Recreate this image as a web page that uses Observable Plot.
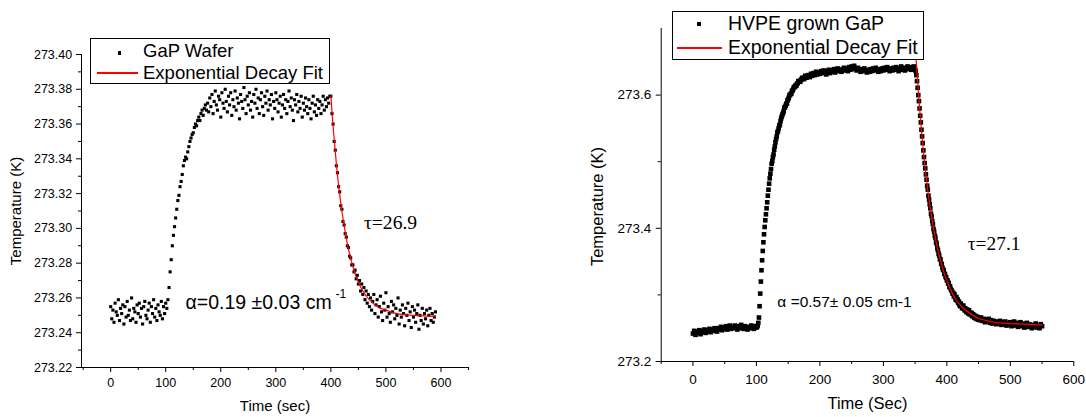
<!DOCTYPE html>
<html>
<head>
<meta charset="utf-8">
<script src="https://cdn.jsdelivr.net/npm/d3@7"></script>
<script src="https://cdn.jsdelivr.net/npm/@observablehq/plot@0.6"></script>
<style>
html,body{margin:0;padding:0;background:#fff;}
#wrap{position:relative;width:1086px;height:417px;overflow:hidden;font-family:"Liberation Sans",Arial,sans-serif;color:#000;}
.panel{position:absolute;top:0;width:543px;height:417px;}
.legend{position:absolute;border:1px solid #000;background:#fff;box-sizing:border-box;}
.lg-text{position:absolute;line-height:1;white-space:nowrap;color:#000;}
.lg-sym{position:absolute;background:#000;}
.lg-line{position:absolute;height:2px;background:#ff0000;z-index:5;}
</style>
</head>
<body>
<div id="wrap">
  <div class="panel" id="left" style="left:0"></div>
  <div class="panel" id="right" style="left:543px"></div>

  <div class="legend" style="left:90px;top:38px;width:240px;height:46px;"></div>
  <div class="lg-sym" style="left:117.5px;top:51px;width:3.5px;height:3.5px;"></div>
  <div class="lg-text" style="left:143px;top:41.6px;font-size:18.5px;">GaP Wafer</div>
  <div class="lg-line" style="left:97px;top:72px;width:41px;height:1.5px;"></div>
  <div class="lg-text" style="left:143px;top:63.6px;font-size:18.5px;">Exponential Decay Fit</div>

  <div class="legend" style="left:672px;top:11px;width:252px;height:49px;"></div>
  <div class="lg-sym" style="left:697.3px;top:22px;width:4px;height:4px;"></div>
  <div class="lg-text" style="left:728px;top:13.5px;font-size:19.5px;">HVPE grown GaP</div>
  <div class="lg-line" style="left:677px;top:46.5px;width:45px;"></div>
  <div class="lg-text" style="left:728px;top:37.8px;font-size:19.5px;">Exponential Decay Fit</div>
</div>
<script>
// ---------- Left panel: GaP Wafer ----------
const leftTime = [
0,2,4,6,8,10,12,14,16,18,
20,22,24,26,28,30,32,34,36,38,
40,42,44,46,48,50,52,54,56,58,
60,62,64,66,68,70,72,74,76,78,
80,82,84,86,88,90,92,94,96,98,
100,
102,104,106,108,110,112,114,116,118,120,
122,124,126,128,130,132,134,136,138,140,
142,144,146,148,150,152,154,156,158,160,
162,164,166,168,170,172,174,
176,178,180,182,184,186,188,190,192,194,
196,198,200,202,204,206,208,210,212,214,
216,218,220,222,224,226,228,230,232,234,
236,238,240,242,244,246,248,250,252,254,
256,258,260,262,264,266,268,270,272,274,
276,278,280,282,284,286,288,290,292,294,
296,298,300,302,304,306,308,310,312,314,
316,318,320,322,324,326,328,330,332,334,
336,338,340,342,344,346,348,350,352,354,
356,358,360,362,364,366,368,370,372,374,
376,378,380,382,384,386,388,390,392,394,
396,398,
400,402,404,406,408,410,412,414,416,418,
420,422,424,426,428,430,432,434,436,438,
440,442,444,446,448,450,452,454,456,458,
460,462,464,466,468,470,472,474,476,478,
480,482,484,486,488,490,492,494,496,498,
500,502,504,506,508,510,512,514,516,518,
520,522,524,526,528,530,532,534,536,538,
540,542,544,546,548,550,552,554,556,558,
560,562,564,566,568,570,572,574,576,578,
580,582,584,586,588,590];
const leftTemp = [
273.255,273.248,273.253,273.246,273.257,273.252,273.250,273.259,273.247,273.254,
273.251,273.256,273.245,273.255,273.249,273.258,273.250,273.253,273.247,273.260,
273.248,273.254,273.252,273.246,273.256,273.251,273.257,273.249,273.254,273.245,
273.255,273.258,273.250,273.248,273.253,273.257,273.246,273.255,273.251,273.259,
273.249,273.254,273.247,273.256,273.252,273.250,273.258,273.248,273.255,273.251,
273.257,
273.254,273.259,273.266,273.275,273.282,273.290,273.296,273.301,273.306,273.311,
273.316,273.319,273.324,273.327,273.331,273.336,273.339,273.341,273.340,273.344,
273.347,273.350,273.352,273.354,273.355,273.358,273.360,273.359,273.362,273.364,
273.362,273.366,273.368,273.365,273.369,273.371,273.368,
273.372,273.367,273.375,273.370,273.377,273.366,273.373,273.379,273.371,273.368,
273.376,273.374,273.364,273.378,273.372,273.369,273.380,273.373,273.367,273.376,
273.371,273.378,273.365,273.374,273.370,273.379,273.368,273.375,273.372,273.363,
273.377,273.373,273.369,273.381,273.374,273.366,273.376,273.371,273.378,273.368,
273.373,273.364,273.377,273.372,273.380,273.369,273.375,273.366,273.374,273.378,
273.370,273.365,273.376,273.372,273.379,273.368,273.374,273.371,273.377,273.363,
273.373,273.369,273.378,273.374,273.367,273.372,273.376,273.364,273.371,273.377,
273.369,273.374,273.366,273.373,273.379,273.370,273.375,273.368,273.362,273.374,
273.371,273.377,273.367,273.373,273.369,273.376,273.364,273.372,273.368,273.375,
273.370,273.366,273.374,273.369,273.363,273.372,273.376,273.367,273.371,273.365,
273.374,273.369,273.373,273.366,273.371,273.376,273.368,273.374,273.370,273.375,
273.372,273.376,
273.376,273.366,273.360,273.350,273.345,273.336,273.332,273.324,273.321,273.313,
273.311,273.304,273.302,273.297,273.295,273.290,273.289,273.284,273.283,273.279,
273.279,273.275,273.276,273.271,273.273,273.268,273.270,273.264,273.268,273.262,
273.266,273.259,273.264,273.257,273.262,273.255,273.260,273.253,273.258,273.262,
273.251,273.256,273.259,273.249,273.255,273.261,273.252,273.247,273.257,273.253,
273.263,273.249,273.255,273.251,273.246,273.258,273.252,273.256,273.248,273.254,
273.250,273.260,273.245,273.253,273.249,273.256,273.251,273.244,273.254,273.250,
273.257,273.247,273.252,273.243,273.255,273.249,273.253,273.246,273.251,273.256,
273.242,273.250,273.247,273.254,273.245,273.251,273.248,273.253,273.244,273.250,
273.254,273.247,273.251,273.246,273.249,273.252];
const leftFitTime = [400,402,405,410,415,420,425,430,435,440,445,450,460,470,480,490,500,520,550,590];
const leftFitTemp = [273.3765,273.367,273.355,273.337,273.322,273.310,273.300,273.291,273.284,273.278,273.273,273.269,273.263,273.259,273.256,273.254,273.253,273.251,273.250,273.2495];
const leftXMajor = [0,100,200,300,400,500,600];
const leftXMinor = [-50,50,150,250,350,450,550,650];
const leftYMajor = [273.22,273.24,273.26,273.28,273.30,273.32,273.34,273.36,273.38,273.40];
const leftYMinor = [273.23,273.25,273.27,273.29,273.31,273.33,273.35,273.37,273.39];
const leftTau = ["τ=26.9"], leftTauTime = [460], leftTauTemp = [273.3034];
const leftAlpha = ["α=0.19 ±0.03 cm"], leftAlphaTime = [136], leftAlphaTemp = [273.2573];
const leftAlphaSup = ["-1"];

// ---------- Right panel: HVPE grown GaP ----------
const rightTime = [
0,2,4,6,8,10,12,14,16,18,
20,22,24,26,28,30,32,34,36,38,
40,42,44,46,48,50,52,54,56,58,
60,62,64,66,68,70,72,74,76,78,
80,82,84,86,88,90,92,94,96,98,
100,
101,102,103,104,105,106,107,108,109,110,
111,112,113,114,115,116,117,118,119,120,
121,122,123,124,125,126,127,128,129,130,
131,132,133,134,135,136,137,138,139,140,
141,142,143,144,145,146,147,148,149,150,
151,152,153,154,155,156,157,158,159,160,
161,162,163,164,165,166,167,168,169,170,
171,172,173,174,175,176,177,178,179,180,
182,184,186,188,190,192,194,196,198,200,
202,204,206,208,210,212,214,216,218,220,
222,224,226,228,230,232,234,236,238,240,
242,244,246,248,250,252,254,256,258,260,
262,264,266,268,270,272,274,276,278,280,
282,284,286,288,290,292,294,296,298,300,
302,304,306,308,310,312,314,316,318,320,
322,324,326,328,330,332,334,336,338,340,
342,344,346,348,
349,350,351,352,353,354,355,356,357,358,
359,360,361,362,363,364,365,366,367,368,
369,370,371,372,373,374,375,376,377,378,
379,380,381,382,383,384,385,386,387,388,
389,390,391,392,393,394,395,396,397,398,
399,400,401,402,403,404,405,406,407,408,
409,410,411,412,413,414,415,416,417,418,
419,420,421,422,423,424,425,426,427,428,
429,430,431,432,433,434,435,436,437,438,
439,440,441,442,443,444,445,446,447,448,
449,450,
452,454,456,458,460,462,464,466,468,470,
472,474,476,478,480,482,484,486,488,490,
492,494,496,498,500,502,504,506,508,510,
512,514,516,518,520,522,524,526,528,530,
532,534,536,538,540,542,544,546,548,550];
const rightTemp = [
273.242,273.246,273.240,273.245,273.243,273.247,273.241,273.246,273.244,273.248,
273.243,273.247,273.245,273.249,273.244,273.248,273.246,273.250,273.247,273.245,
273.250,273.248,273.252,273.247,273.251,273.249,273.253,273.248,273.251,273.254,
273.249,273.252,273.250,273.254,273.251,273.248,273.253,273.250,273.255,273.251,
273.249,273.253,273.251,273.248,273.252,273.250,273.254,273.251,273.249,273.253,
273.251,
273.252,273.254,273.258,273.266,273.283,273.302,273.320,273.337,273.352,273.366,
273.379,273.391,273.402,273.412,273.421,273.430,273.439,273.449,273.458,273.467,
273.475,273.482,273.489,273.497,273.501,273.507,273.511,273.518,273.523,273.529,
273.534,273.538,273.544,273.546,273.550,273.554,273.556,273.561,273.565,273.568,
273.571,273.573,273.576,273.581,273.582,273.584,273.587,273.587,273.592,273.594,
273.596,273.600,273.600,273.602,273.602,273.606,273.607,273.609,273.612,273.612,
273.613,273.615,273.614,273.617,273.618,273.621,273.620,273.621,273.620,273.623,
273.623,273.626,273.625,273.625,273.624,273.627,273.629,273.628,273.626,273.629,
273.630,273.627,273.632,273.629,273.633,273.630,273.635,273.631,273.634,273.632,
273.636,273.633,273.637,273.634,273.631,273.636,273.638,273.633,273.637,273.635,
273.639,273.634,273.637,273.640,273.636,273.638,273.635,273.639,273.641,273.637,
273.640,273.636,273.642,273.638,273.643,273.639,273.644,273.640,273.637,273.641,
273.638,273.635,273.639,273.636,273.640,273.637,273.634,273.638,273.635,273.639,
273.636,273.640,273.637,273.641,273.638,273.635,273.639,273.636,273.640,273.637,
273.641,273.638,273.642,273.639,273.636,273.640,273.637,273.641,273.638,273.642,
273.639,273.636,273.640,273.643,273.638,273.641,273.637,273.640,273.643,273.639,
273.642,273.638,273.641,273.643,
273.641,273.638,273.636,273.630,273.621,273.611,273.600,273.591,273.580,273.569,
273.559,273.548,273.538,273.528,273.517,273.507,273.498,273.490,273.481,273.473,
273.464,273.458,273.449,273.443,273.436,273.430,273.422,273.418,273.411,273.406,
273.399,273.395,273.389,273.386,273.379,273.377,273.370,273.367,273.362,273.359,
273.354,273.353,273.347,273.346,273.341,273.338,273.337,273.332,273.331,273.327,
273.326,273.322,273.322,273.317,273.318,273.312,273.313,273.309,273.307,273.306,
273.302,273.303,273.298,273.301,273.296,273.293,273.297,273.291,273.293,273.288,
273.290,273.285,273.283,273.287,273.284,273.280,273.282,273.284,273.279,273.277,
273.280,273.276,273.274,273.278,273.275,273.272,273.277,273.271,273.273,273.270,
273.273,273.268,273.271,273.270,273.266,273.269,273.265,273.268,273.264,273.267,
273.263,273.266,
273.262,273.266,273.261,273.264,273.259,273.263,273.260,273.264,273.258,273.262,
273.257,273.261,273.259,273.256,273.260,273.257,273.261,273.255,273.259,273.256,
273.260,273.254,273.258,273.255,273.259,273.253,273.257,273.260,273.254,273.258,
273.252,273.256,273.259,273.253,273.257,273.251,273.255,273.258,273.252,273.256,
273.253,273.250,273.255,273.252,273.257,273.251,273.254,273.250,273.256,273.253];
const rightFitTime = [351,352,354,356,358,360,362,364,366,368,370,372,374,376,378,380,382,385,388,390,395,400,405,410,415,420,425,430,440,450,460,470,480,500,525,550];
const rightFitTemp = [273.663,273.648,273.620,273.594,273.570,273.547,273.527,273.507,273.489,273.473,273.457,273.443,273.429,273.417,273.406,273.395,273.385,273.371,273.359,273.352,273.335,273.322,273.310,273.300,273.292,273.286,273.281,273.277,273.270,273.265,273.262,273.260,273.258,273.257,273.256,273.255];
const rightXMajor = [0,100,200,300,400,500,600];
const rightXMinor = [-50,50,150,250,350,450,550];
const rightYMajor = [273.2,273.4,273.6];
const rightYMinor = [273.3,273.5];
const rightTau = ["τ=27.1"], rightTauTime = [433], rightTauTemp = [273.377];
const rightAlpha = ["α =0.57± 0.05 cm-1"], rightAlphaTime = [133], rightAlphaTemp = [273.289];

function panel(c) {
  return Plot.plot({
    width: 543, height: 417,
    marginLeft: c.ml, marginRight: c.mr, marginTop: c.mt, marginBottom: c.mb,
    x: {domain: c.xDomain},
    y: {domain: c.yDomain},
    style: {fontFamily: "'Liberation Sans', Arial, sans-serif", color: "#000", background: "transparent", overflow: "visible"},
    marks: [
      Plot.axisX(c.xMinor, {tickSize: 3, tickFormat: () => "", label: null}),
      Plot.axisX(c.xMajor, {tickSize: 5, tickPadding: c.xpad, fontSize: c.tickFs, label: null, tickFormat: d => String(d)}),
      Plot.axisY(c.yMinor, {tickSize: 3, tickFormat: () => "", label: null}),
      Plot.axisY(c.yMajor, {tickSize: 5, tickPadding: c.ypad, fontSize: c.tickFs, label: null, tickFormat: d3.format(c.yFmt)}),
      Plot.ruleX([c.xDomain[0]], {stroke: "#000"}),
      Plot.ruleY([c.yDomain[0]], {stroke: "#000"}),
      Plot.dot(c.time, {x: c.time, y: c.temp, symbol: "square", r: c.r, fill: "#000", stroke: "none"}),
      Plot.line(c.fitTime, {x: c.fitTime, y: c.fitTemp, stroke: "#ff0000", strokeWidth: 1.2, curve: "monotone-x"}),
      Plot.text([c.xTitle], {frameAnchor: "bottom", textAnchor: "middle", lineAnchor: "middle", dy: c.xTitleDy, fontSize: c.titleFs}),
      Plot.text([c.yTitle], {frameAnchor: "left", textAnchor: "middle", lineAnchor: "middle", rotate: -90, dx: c.yTitleDx, dy: c.yTitleDy, fontSize: c.titleFs}),
      ...c.notes
    ]
  });
}

document.getElementById("left").append(panel({
  ml: 81, mr: 75, mt: 54, mb: 50,
  xDomain: [-53, 650], yDomain: [273.22, 273.40],
  xMajor: leftXMajor, xMinor: leftXMinor, yMajor: leftYMajor, yMinor: leftYMinor,
  yFmt: ".2f", tickFs: 12.5, xpad: 6, ypad: 4.3,
  time: leftTime, temp: leftTemp, fitTime: leftFitTime, fitTemp: leftFitTemp, r: 1.75,
  xTitle: "Time (sec)", yTitle: "Temperature (K)", titleFs: 15,
  xTitleDy: 39, yTitleDx: -65, yTitleDy: 0,
  notes: [
    Plot.text(leftTau, {x: leftTauTime, y: leftTauTemp, text: d => d, textAnchor: "start", fontFamily: "'Liberation Serif', 'Times New Roman', serif", fontSize: 19.6}),
    Plot.text(leftAlpha, {x: leftAlphaTime, y: leftAlphaTemp, text: d => d, textAnchor: "start", fontSize: 19.5}),
    Plot.text(leftAlphaSup, {x: leftAlphaTime, y: leftAlphaTemp, text: d => d, textAnchor: "start", fontSize: 12, dx: 150, dy: -8})
  ]
}));

document.getElementById("right").append(panel({
  ml: 117.7, mr: 12.7, mt: 28, mb: 56,
  xDomain: [-50, 600], yDomain: [273.2, 273.7],
  xMajor: rightXMajor, xMinor: rightXMinor, yMajor: rightYMajor, yMinor: rightYMinor,
  yFmt: ".1f", tickFs: 13.5, xpad: 8, ypad: 5,
  time: rightTime, temp: rightTemp, fitTime: rightFitTime, fitTemp: rightFitTemp, r: 2.6,
  xTitle: "Time (Sec)", yTitle: "Temperature (K)", titleFs: 16.5,
  xTitleDy: 42, yTitleDx: -63, yTitleDy: 11.5,
  notes: [
    Plot.text(rightTau, {x: rightTauTime, y: rightTauTemp, text: d => d, textAnchor: "start", fontFamily: "'Liberation Serif', 'Times New Roman', serif", fontSize: 19.4}),
    Plot.text(rightAlpha, {x: rightAlphaTime, y: rightAlphaTemp, text: d => d, textAnchor: "start", fontSize: 15.5})
  ]
}));
</script>
</body>
</html>
